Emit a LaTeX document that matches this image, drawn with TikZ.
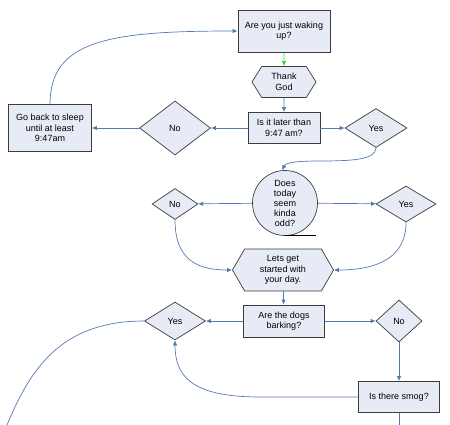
\documentclass[tikz,border=0pt]{standalone}
\usepackage{fontspec}
\setmainfont{Liberation Sans}
\usetikzlibrary{shapes.geometric,shapes.symbols,arrows.meta}
\definecolor{boxfill}{RGB}{231,235,246}
\definecolor{edgegray}{RGB}{60,60,60}
\definecolor{connblue}{RGB}{85,120,180}
\definecolor{okgreen}{RGB}{40,220,40}
\begin{document}
\begin{tikzpicture}[x=1pt,y=-1pt,
 font=\fontsize{9}{10.5}\selectfont,
 base/.style={draw=edgegray,fill=boxfill,align=center,inner sep=1pt,line width=0.7pt},
 proc/.style={base,rectangle,line width=0.9pt},
 dec/.style={base,diamond,inner sep=0pt},
 hexa/.style={base,signal,signal to=west and east},
 line/.style={draw=connblue,line width=0.7pt},
 arr/.style={line,-{Latex[length=5pt,width=4.5pt]}},
 ]
\useasboundingbox (0,0) rectangle (450,425);
\node[proc,minimum width=92pt,minimum height=42pt] (wake) at (284,31) {Are you just waking\\up?};
\node[hexa,minimum width=64pt,minimum height=31pt,signal pointer angle=116] (thank) at (284,82) {Thank\\God};
\node[proc,minimum width=72pt,minimum height=31pt] (later) at (284,128) {Is it later than\\9:47 am?};
\node[dec,minimum width=62pt,minimum height=39pt] (yes1) at (376,128) {Yes};
\node[dec,minimum width=71pt,minimum height=54pt] (no1) at (175,128) {No};
\node[proc,minimum width=83pt,minimum height=47pt] (sleep) at (50,128) {Go back to sleep\\until at least\\9:47am};
\node[base,circle,minimum size=65pt,inner sep=0pt,font=\fontsize{9}{10}\selectfont] (odd) at (285,203) {Does\\today\\seem\\kinda\\odd?};
\node[dec,minimum width=46pt,minimum height=31pt] (no2) at (175,204) {No};
\node[dec,minimum width=60pt,minimum height=36pt] (yes2) at (406,204) {Yes};
\node[hexa,minimum width=101pt,minimum height=42pt,signal pointer angle=120] (start) at (283,270) {Lets get\\started with\\your day.};
\node[proc,minimum width=81pt,minimum height=32pt] (dogs) at (284,321) {Are the dogs\\barking?};
\node[dec,minimum width=61pt,minimum height=38pt] (yes3) at (175,321) {Yes};
\node[dec,minimum width=46pt,minimum height=42pt] (no3) at (399,321) {No};
\node[proc,minimum width=81pt,minimum height=31pt] (smog) at (399,397) {Is there smog?};
\coordinate (offbl) at (7,425);
\coordinate (offsm) at (399,425);

\draw[arr,draw=okgreen] (wake) -- (thank);
\draw[arr] (thank) -- (later);
\draw[arr] (later) -- (yes1);
\draw[arr] (later) -- (no1);
\draw[arr] (no1) -- (sleep);
\draw[arr] (sleep.north) .. controls (50,40) and (110,31) .. (wake.west);
\draw[arr] (yes1.south) .. controls (376,160) and (350,161) .. (320,161) .. controls (300,161) and (286,162) .. (odd.95);
\draw[arr] (odd) -- (no2);
\draw[arr] (odd) -- (yes2);
\draw[draw=black,line width=0.9pt] (odd.south) -- ++(31,0);
\draw[arr] (no2.south) .. controls (175,262) and (200,270) .. (start.west);
\draw[arr] (yes2.south) .. controls (406,262) and (370,270) .. (start.east);
\draw[arr] (start) -- (dogs);
\draw[arr] (dogs) -- (yes3);
\draw[arr] (dogs) -- (no3);
\draw[arr] (no3) -- (smog);
\draw[arr] (smog.west) -- (260,397) .. controls (190,397) and (175,375) .. (yes3.south);
\draw[line] (yes3.west) .. controls (60,321) and (30,370) .. (offbl);
\draw[line] (smog.south) -- (offsm);
\end{tikzpicture}
\end{document}
